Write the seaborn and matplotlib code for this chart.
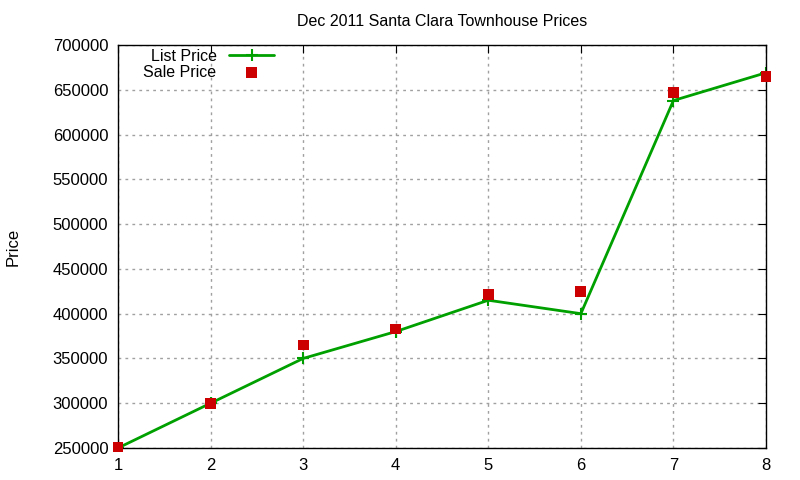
import pandas as pd
import numpy as np
import matplotlib
matplotlib.use('Agg')
import matplotlib.pyplot as plt
import seaborn as sns

# values
house = [1, 2, 3, 4, 5, 6, 7, 8]
list_price = [250000, 300000, 350000, 380000, 415000, 400000, 638000, 669000]
sale_price = [251000, 300000, 365000, 383000, 421000, 425000, 647000, 665000]

df = pd.DataFrame({'House': house, 'List Price': list_price, 'Sale Price': sale_price})

sns.set_style('white')
plt.rcParams['font.family'] = ['Liberation Sans', 'DejaVu Sans']
plt.rcParams['text.color'] = 'black'
plt.rcParams['xtick.color'] = 'black'
plt.rcParams['ytick.color'] = 'black'
plt.rcParams['axes.labelcolor'] = 'black'

fig = plt.figure(figsize=(8, 4.8), dpi=100)
ax = fig.add_axes([118 / 800, 1 - 448 / 480, (766 - 118) / 800, (448 - 45) / 480])

sns.lineplot(data=df, x='House', y='List Price', ax=ax, color='#00a000', linewidth=2,
             marker='+', markersize=8, markeredgewidth=1.5, markeredgecolor='#00a000',
             label='List Price')
sns.scatterplot(data=df, x='House', y='Sale Price', ax=ax, color='#cc0000', marker='s',
                s=60, edgecolor='none', label='Sale Price', zorder=3, clip_on=False)

ax.set_xlim(1, 8)
ax.set_ylim(250000, 700000)
ax.set_yticks(np.arange(250000, 700001, 50000))
ax.set_xticks(house)
ax.grid(True, color='#a0a0a0', linestyle=(0, (2, 3)), linewidth=1)
for s in ax.spines.values():
    s.set_color('black')
    s.set_linewidth(1)
ax.tick_params(direction='in', length=6, top=True, right=True, labelsize=12, pad=7)
ax.set_xlabel('')
ax.set_ylabel('Price', fontsize=12)
ax.yaxis.set_label_coords(-0.150, 0.5)
ax.set_title('Dec 2011 Santa Clara Townhouse Prices', fontsize=11.5, pad=14)

leg = ax.legend(loc='upper left', bbox_to_anchor=(0.022, 1.018), markerfirst=False, frameon=False,
                fontsize=11.5, handlelength=2.8, borderaxespad=0.3, labelspacing=0.05)
for t in leg.get_texts():
    t.set_ha('right')

fig.savefig('out.png', dpi=100)
